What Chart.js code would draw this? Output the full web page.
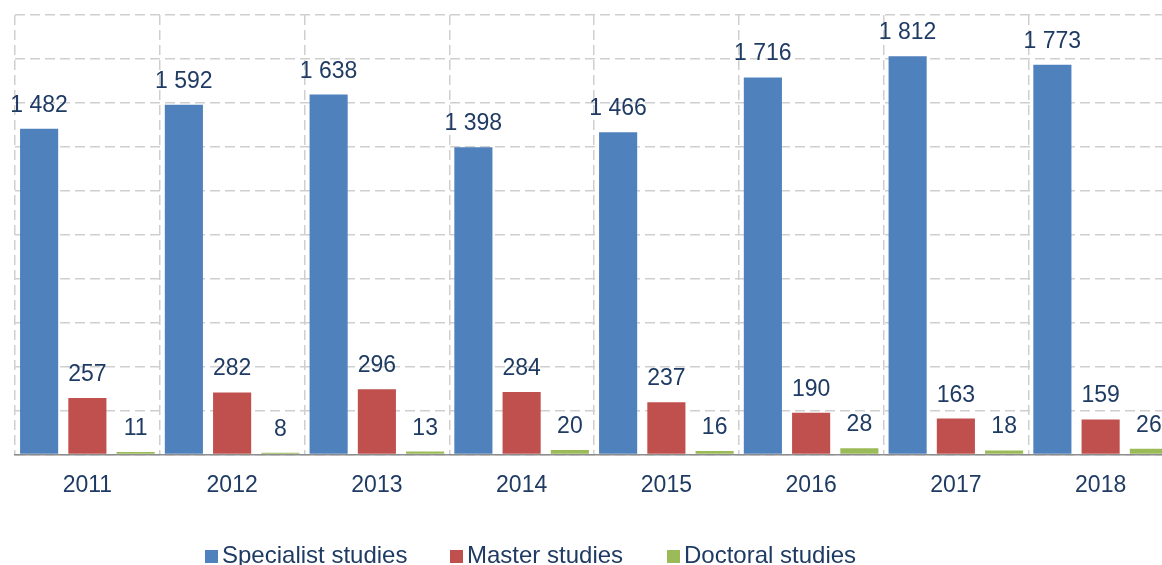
<!DOCTYPE html>
<html>
<head>
<meta charset="utf-8">
<script src="https://cdn.jsdelivr.net/npm/chart.js@4/dist/chart.umd.min.js"></script>
<style>
  html, body { margin: 0; padding: 0; overflow: hidden; background: #fff; }
  #wrap { position: relative; width: 1162px; height: 565px; overflow: hidden; }
  canvas { position: absolute; left: 0; top: 0; }
  .lg { position: absolute; top: 541px; font-family: "Liberation Sans", Arial, sans-serif; font-size: 24px; color: #1F3B63; white-space: nowrap; line-height: 28px; }
  .lg i { display: inline-block; width: 13px; height: 13px; margin-right: 4px; vertical-align: 0px; }
</style>
</head>
<body>
<div id="wrap">
  <canvas id="c" width="1180" height="565"></canvas>
  <div id="legend"></div>
</div>
<script>
const categories = ['2011', '2012', '2013', '2014', '2015', '2016', '2017', '2018'];
const seriesNames = ['Specialist studies', 'Master studies', 'Doctoral studies'];
const specialist = [1482, 1592, 1638, 1398, 1466, 1716, 1812, 1773];
const master = [257, 282, 296, 284, 237, 190, 163, 159];
const doctoral = [11, 8, 13, 20, 16, 28, 18, 26];
const colors = ['#4F81BD', '#C0504D', '#9BBB59'];
const yTicks = { min: 0, max: 2000, step: 200 };

const labelColor = '#1F3B63';
const fontFamily = '"Liberation Sans", Arial, sans-serif';

function fmt(n) {
  return String(n).replace(/\B(?=(\d{3})+(?!\d))/g, ' ');
}

const valueLabels = {
  id: 'valueLabels',
  afterDatasetsDraw(chart) {
    const ctx = chart.ctx;
    ctx.save();
    ctx.font = '23px ' + fontFamily;
    ctx.fillStyle = labelColor;
    ctx.textAlign = 'center';
    ctx.textBaseline = 'alphabetic';
    chart.data.datasets.forEach((ds, i) => {
      const meta = chart.getDatasetMeta(i);
      meta.data.forEach((el, j) => {
        ctx.fillText(fmt(ds.data[j]), el.x, el.y - 17);
      });
    });
    ctx.restore();
  }
};

const data = [specialist, master, doctoral];

new Chart(document.getElementById('c'), {
  type: 'bar',
  data: {
    labels: categories,
    datasets: seriesNames.map((name, i) => ({
      label: name,
      data: data[i],
      backgroundColor: colors[i],
      borderWidth: 0,
      categoryPercentage: 1.0,
      barPercentage: 0.79
    }))
  },
  options: {
    responsive: false,
    animation: false,
    layout: { padding: { left: 15, top: 15, right: 7, bottom: 49 } },
    plugins: { legend: { display: false }, tooltip: { enabled: false } },
    scales: {
      x: {
        grid: { display: true, offset: true, drawTicks: false, color: '#CFCFCF', lineWidth: 1.5 },
        border: { display: true, color: '#8C8C8C', width: 1.5, dash: [10, 5] },
        ticks: { color: labelColor, font: { size: 23, family: fontFamily }, padding: 17 }
      },
      y: {
        min: yTicks.min, max: yTicks.max,
        ticks: { display: false, stepSize: yTicks.step },
        grid: { drawTicks: false, tickLength: 0, color: '#CFCFCF', lineWidth: 1.5 },
        border: { display: false, dash: [10, 5] }
      }
    }
  },
  plugins: [valueLabels]
});

const legend = document.getElementById('legend');
const legendX = [205, 450, 667];
seriesNames.forEach((name, i) => {
  const d = document.createElement('div');
  d.className = 'lg';
  d.style.left = legendX[i] + 'px';
  d.innerHTML = '<i style="background:' + colors[i] + '"></i>' + name;
  legend.appendChild(d);
});
</script>
</body>
</html>
